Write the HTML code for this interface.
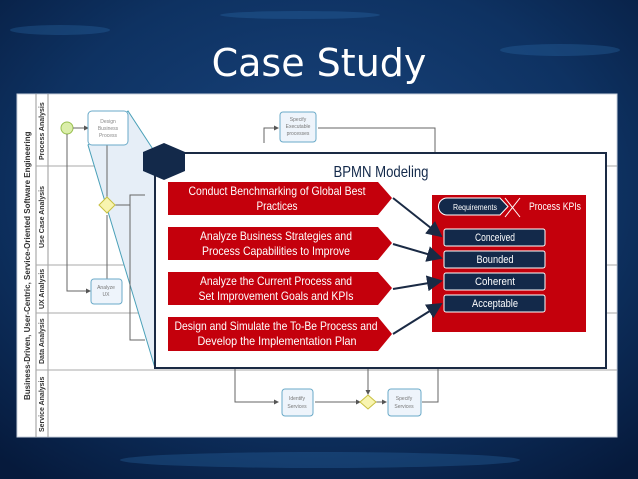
<!DOCTYPE html>
<html><head><meta charset="utf-8"><style>
html,body{margin:0;padding:0;width:638px;height:479px;overflow:hidden;background:#0b2550}
</style></head><body>
<svg width="638" height="479" xmlns="http://www.w3.org/2000/svg" font-family="Liberation Sans, sans-serif">
<defs>
<radialGradient id="bg" cx="50%" cy="40%" r="75%">
<stop offset="0" stop-color="#1a4680"/><stop offset="0.6" stop-color="#0e3262"/><stop offset="1" stop-color="#061a3c"/>
</radialGradient>
<marker id="ah" markerWidth="8" markerHeight="8" refX="7" refY="4" orient="auto"><path d="M0,0 L8,4 L0,8 z" fill="#1a2a44"/></marker>
<marker id="sa" markerWidth="5" markerHeight="5" refX="4" refY="2.5" orient="auto"><path d="M0,0 L5,2.5 L0,5 z" fill="#555"/></marker>
</defs>
<rect width="638" height="479" fill="url(#bg)"/>
<g fill="#2f6fb0" opacity="0.3">
<ellipse cx="60" cy="30" rx="50" ry="5"/><ellipse cx="560" cy="50" rx="60" ry="6"/><ellipse cx="300" cy="15" rx="80" ry="4"/>
<ellipse cx="320" cy="460" rx="200" ry="8"/>
</g>
<text x="319" y="76" text-anchor="middle" font-family="DejaVu Sans, sans-serif" font-size="38" fill="#fff">Case Study</text>

<rect x="17" y="94" width="600" height="343" fill="#fff" stroke="#c8d0dc"/>
<line x1="36" y1="94" x2="36" y2="437" stroke="#999"/>
<line x1="48" y1="94" x2="48" y2="437" stroke="#999"/>
<g stroke="#aaa">
<line x1="36" y1="166" x2="617" y2="166"/><line x1="36" y1="265" x2="617" y2="265"/>
<line x1="36" y1="313" x2="617" y2="313"/><line x1="36" y1="370" x2="617" y2="370"/>
</g>
<g font-size="7" font-weight="bold" fill="#333">
<text transform="translate(30,400) rotate(-90)" font-size="8">Business-Driven, User-Centric, Service-Oriented Software Engineering</text>
<text transform="translate(44,160) rotate(-90)">Process Analysis</text>
<text transform="translate(44,248) rotate(-90)">Use Case Analysis</text>
<text transform="translate(44,309) rotate(-90)">UX Analysis</text>
<text transform="translate(44,364) rotate(-90)">Data Analysis</text>
<text transform="translate(44,432) rotate(-90)">Service Analysis</text>
</g>
<polygon points="88,145 128,111 160,160 155,368" fill="#e6eef7" stroke="#4aa0b8"/>
<circle cx="67" cy="128" r="6" fill="#dbeeaa" stroke="#99c050"/>
<g stroke="#666" fill="none">
<line x1="73" y1="128" x2="88" y2="128" marker-end="url(#sa)"/>
<polyline points="67,134 67,291 90,291" marker-end="url(#sa)"/>
<line x1="107" y1="145" x2="107" y2="200"/>
<line x1="107" y1="215" x2="107" y2="281"/>
<polyline points="115,205 130,205 130,195 145,195"/>
<polyline points="130,205 130,340 145,340"/>
<polyline points="264,143 264,128 278,128" marker-end="url(#sa)"/>
<polyline points="318,128 435,128 435,153"/>
<polyline points="235,368 235,402 278,402" marker-end="url(#sa)"/>
<line x1="315" y1="402" x2="360" y2="402" marker-end="url(#sa)"/>
<line x1="368" y1="368" x2="368" y2="394" marker-end="url(#sa)"/>
<line x1="376" y1="402" x2="386" y2="402" marker-end="url(#sa)"/>
<polyline points="422,402 438,402 438,368"/>
</g>
<rect x="88" y="111" width="40" height="34" rx="4" fill="#fff" stroke="#6aaac8"/>
<text x="108" y="123" font-size="5" text-anchor="middle" fill="#888">Design</text>
<text x="108" y="130" font-size="5" text-anchor="middle" fill="#888">Business</text>
<text x="108" y="137" font-size="5" text-anchor="middle" fill="#888">Process</text>
<polygon points="107,197 115,205 107,213 99,205" fill="#f8f4b0" stroke="#c8c040"/>
<rect x="91" y="279" width="31" height="25" rx="3" fill="#eef4fb" stroke="#6aaac8"/>
<text x="106" y="289" font-size="5" text-anchor="middle" fill="#777">Analyze</text><text x="106" y="296" font-size="5" text-anchor="middle" fill="#777">UX</text>
<rect x="280" y="112" width="36" height="30" rx="3" fill="#eef4fb" stroke="#6aaac8"/>
<text x="298" y="121" font-size="5" text-anchor="middle" fill="#777">Specify</text><text x="298" y="128" font-size="5" text-anchor="middle" fill="#777">Executable</text><text x="298" y="135" font-size="5" text-anchor="middle" fill="#777">processes</text>
<rect x="282" y="389" width="31" height="27" rx="3" fill="#eef4fb" stroke="#6aaac8"/>
<text x="297" y="400" font-size="5" text-anchor="middle" fill="#777">Identify</text><text x="297" y="408" font-size="5" text-anchor="middle" fill="#777">Services</text>
<polygon points="368,395 376,402 368,409 360,402" fill="#f8f4b0" stroke="#c8c040"/>
<rect x="388" y="389" width="33" height="27" rx="3" fill="#eef4fb" stroke="#6aaac8"/>
<text x="404" y="400" font-size="5" text-anchor="middle" fill="#777">Specify</text><text x="404" y="408" font-size="5" text-anchor="middle" fill="#777">Services</text>

<rect x="155" y="153" width="451" height="215" fill="#fff" stroke="#1a2a44" stroke-width="2"/>
<polygon points="164,143 185,152 185,171 164,180 143,171 143,152" fill="#13294a"/>
<text x="381" y="177" text-anchor="middle" font-size="16" fill="#13294a" textLength="95" lengthAdjust="spacingAndGlyphs">BPMN Modeling</text>
<g fill="#c4000c">
<polygon points="168,182 378,182 392,198 378,215 168,215"/>
<polygon points="168,227 378,227 392,243 378,260 168,260"/>
<polygon points="168,272 378,272 392,288 378,305 168,305"/>
<polygon points="168,317 378,317 392,334 378,351 168,351"/>
</g>
<g fill="#fff" font-size="12" text-anchor="middle" lengthAdjust="spacingAndGlyphs">
<text x="277" y="195" textLength="177" lengthAdjust="spacingAndGlyphs">Conduct Benchmarking of Global Best</text><text x="277" y="210" textLength="41" lengthAdjust="spacingAndGlyphs">Practices</text>
<text x="276" y="240" textLength="152" lengthAdjust="spacingAndGlyphs">Analyze Business Strategies and</text><text x="276" y="255" textLength="148" lengthAdjust="spacingAndGlyphs">Process Capabilities to Improve</text>
<text x="276" y="285" textLength="152" lengthAdjust="spacingAndGlyphs">Analyze the Current Process and</text><text x="276" y="300" textLength="155" lengthAdjust="spacingAndGlyphs">Set Improvement Goals and KPIs</text>
<text x="276" y="330" textLength="203" lengthAdjust="spacingAndGlyphs">Design and Simulate the To-Be Process and</text><text x="277" y="345" textLength="159" lengthAdjust="spacingAndGlyphs">Develop the Implementation Plan</text>
</g>
<rect x="432" y="195" width="154" height="137" fill="#c4000c"/>
<path d="M447,198 L500,198 L508,206.5 L500,215 L447,215 A8.5,8.5 0 0 1 447,198 z" fill="#13294a" stroke="#fff"/>
<line x1="505" y1="198" x2="520" y2="217" stroke="#fff"/><line x1="520" y1="198" x2="505" y2="217" stroke="#fff"/>
<text x="475" y="210" text-anchor="middle" font-size="8" fill="#fff" textLength="44" lengthAdjust="spacingAndGlyphs">Requirements</text>
<text x="555" y="210" text-anchor="middle" font-size="11" fill="#fff" textLength="52" lengthAdjust="spacingAndGlyphs">Process KPIs</text>
<g fill="#13294a" stroke="#fff">
<rect x="444" y="229" width="101" height="17" rx="2"/><rect x="444" y="251" width="101" height="17" rx="2"/>
<rect x="444" y="273" width="101" height="17" rx="2"/><rect x="444" y="295" width="101" height="17" rx="2"/>
</g>
<g fill="#fff" font-size="11" text-anchor="middle">
<text x="495" y="241" textLength="40" lengthAdjust="spacingAndGlyphs">Conceived</text><text x="495" y="263" textLength="37" lengthAdjust="spacingAndGlyphs">Bounded</text><text x="495" y="285" textLength="40" lengthAdjust="spacingAndGlyphs">Coherent</text><text x="495" y="307" textLength="46" lengthAdjust="spacingAndGlyphs">Acceptable</text>
</g>
<g stroke="#1a2a44" stroke-width="2" marker-end="url(#ah)">
<line x1="393" y1="198" x2="441" y2="236"/>
<line x1="393" y1="244" x2="441" y2="258"/>
<line x1="393" y1="289" x2="441" y2="281"/>
<line x1="393" y1="334" x2="441" y2="304"/>
</g>
</svg>
</body></html>
